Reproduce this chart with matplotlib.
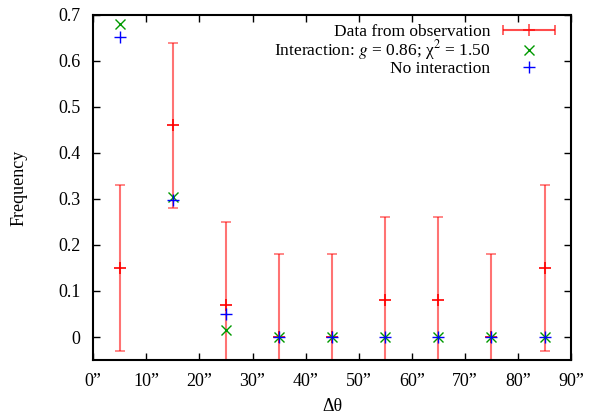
import numpy as np
import matplotlib
matplotlib.use('Agg')
import matplotlib.pyplot as plt
from matplotlib.ticker import FuncFormatter
from matplotlib.legend_handler import HandlerErrorbar

plt.rcParams['font.family'] = 'Liberation Serif'
plt.rcParams['mathtext.fontset'] = 'stix'
plt.rcParams['font.size'] = 13

# bins in degrees
dtheta = [5, 15, 25, 35, 45, 55, 65, 75, 85]
obs = [0.15, 0.46, 0.07, 0.0, 0.0, 0.08, 0.08, 0.0, 0.15]
obs_err = [0.18, 0.18, 0.18, 0.18, 0.18, 0.18, 0.18, 0.18, 0.18]
interaction = [0.68, 0.305, 0.015, 0.0, 0.0, 0.0, 0.0, 0.0, 0.0]
no_interaction = [0.652, 0.298, 0.05, 0.0, 0.0, 0.0, 0.0, 0.0, 0.0]
xticks = [0, 10, 20, 30, 40, 50, 60, 70, 80, 90]

fig = plt.figure(figsize=(5.9, 4.15), dpi=100)
ax = fig.add_axes([0.158, 0.1325, 0.81, 0.8315])

red = '#ff0000'
ax.errorbar(dtheta, obs, yerr=obs_err, fmt='none', ecolor=red, alpha=0.55,
            elinewidth=1.5, capsize=3.5, capthick=1.2, zorder=2)
ax.plot(dtheta, obs, '+', color=red, ms=9, mew=1.2, zorder=3)
ax.plot(dtheta, interaction, 'x', color='#009900', ms=7, mew=1.0, zorder=4)
ax.plot(dtheta, no_interaction, '+', color='#0000ff', ms=8, mew=1.0, zorder=5)

# legend proxies (gnuplot style: text left, sample right)
h1 = ax.errorbar([np.nan], [np.nan], xerr=[1], fmt='+', color=red, ms=9,
                 mew=1.2, elinewidth=1.5, capsize=3.5, alpha=0.7)
h2, = ax.plot([], [], 'x', color='#009900', ms=7, mew=1.0)
h3, = ax.plot([], [], '+', color='#0000ff', ms=8, mew=1.0)
leg = ax.legend([h1, h2, h3],
                ['Data from observation',
                 'Interaction: $g$ = 0.86; \u03c7$^2$ = 1.50',
                 'No interaction'],
                loc='upper right', frameon=False, markerfirst=False,
                handlelength=3.8, handletextpad=0.35, labelspacing=-0.08,
                borderaxespad=0.2, borderpad=0.3, fontsize=12.5,
                handler_map={type(h1): HandlerErrorbar(xerr_size=1.5)})
for t in leg.get_texts():
    t.set_ha('right')

ax.set_xlim(0, 90)
ax.set_ylim(-0.05, 0.7)
ax.set_xticks(xticks)
ax.set_xticklabels([f'{v}\u201d' for v in xticks])
ax.set_yticks(np.arange(0, 0.71, 0.1))
ax.yaxis.set_major_formatter(FuncFormatter(lambda v, p: f'{v:g}' if abs(v) > 1e-9 else '0'))
ax.tick_params(direction='in', top=True, right=True, length=5, width=1, pad=9)
for s in ax.spines.values():
    s.set_linewidth(1.5)

ax.set_xlabel('\u0394\u03b8', labelpad=6)
ax.set_ylabel('Frequency', labelpad=22)

fig.savefig('out.png', dpi=100)
